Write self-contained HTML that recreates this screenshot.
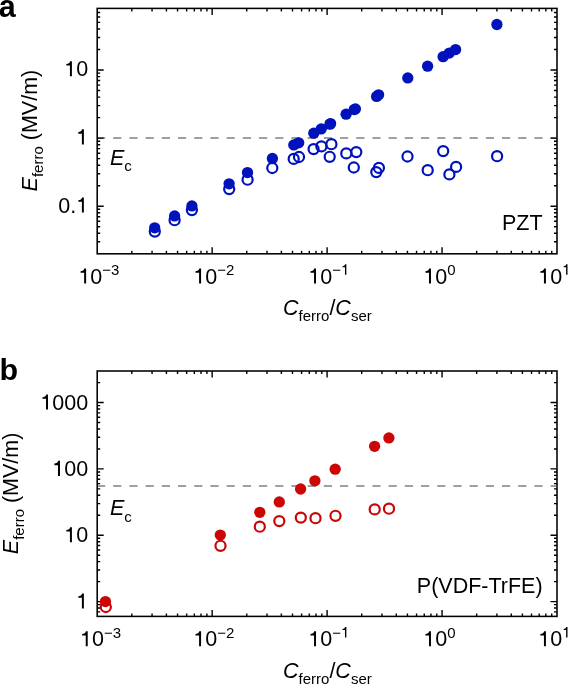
<!DOCTYPE html>
<html><head><meta charset="utf-8"><style>
html,body{margin:0;padding:0;background:#fff;}
svg{display:block;will-change:transform;filter:blur(0.3px);}
text{font-family:"Liberation Sans", sans-serif;fill:#000;}
</style></head><body>
<svg width="568" height="685" viewBox="0 0 568 685">
<rect width="568" height="685" fill="#fff"/>
<line x1="97.0" y1="138.1" x2="556.0" y2="138.1" stroke="#808080" stroke-width="1.5" stroke-dasharray="8.2 8.0"/>
<rect x="97.2" y="8.4" width="459.8" height="245.4" fill="none" stroke="#000" stroke-width="1.55"/>
<path d="M131.80 253.80v-3.0M131.80 8.40v3.0M152.05 253.80v-3.0M152.05 8.40v3.0M166.41 253.80v-3.0M166.41 8.40v3.0M177.55 253.80v-3.0M177.55 8.40v3.0M186.65 253.80v-3.0M186.65 8.40v3.0M194.34 253.80v-3.0M194.34 8.40v3.0M201.01 253.80v-3.0M201.01 8.40v3.0M206.89 253.80v-3.0M206.89 8.40v3.0M212.15 253.80v-6.5M212.15 8.40v6.5M246.75 253.80v-3.0M246.75 8.40v3.0M267.00 253.80v-3.0M267.00 8.40v3.0M281.36 253.80v-3.0M281.36 8.40v3.0M292.50 253.80v-3.0M292.50 8.40v3.0M301.60 253.80v-3.0M301.60 8.40v3.0M309.29 253.80v-3.0M309.29 8.40v3.0M315.96 253.80v-3.0M315.96 8.40v3.0M321.84 253.80v-3.0M321.84 8.40v3.0M327.10 253.80v-6.5M327.10 8.40v6.5M361.70 253.80v-3.0M361.70 8.40v3.0M381.95 253.80v-3.0M381.95 8.40v3.0M396.31 253.80v-3.0M396.31 8.40v3.0M407.45 253.80v-3.0M407.45 8.40v3.0M416.55 253.80v-3.0M416.55 8.40v3.0M424.24 253.80v-3.0M424.24 8.40v3.0M430.91 253.80v-3.0M430.91 8.40v3.0M436.79 253.80v-3.0M436.79 8.40v3.0M442.05 253.80v-6.5M442.05 8.40v6.5M476.65 253.80v-3.0M476.65 8.40v3.0M496.90 253.80v-3.0M496.90 8.40v3.0M511.26 253.80v-3.0M511.26 8.40v3.0M522.40 253.80v-3.0M522.40 8.40v3.0M531.50 253.80v-3.0M531.50 8.40v3.0M539.19 253.80v-3.0M539.19 8.40v3.0M545.86 253.80v-3.0M545.86 8.40v3.0M551.74 253.80v-3.0M551.74 8.40v3.0M97.20 241.81h3.0M557.00 241.81h-3.0M97.20 233.30h3.0M557.00 233.30h-3.0M97.20 226.70h3.0M557.00 226.70h-3.0M97.20 221.31h3.0M557.00 221.31h-3.0M97.20 216.75h3.0M557.00 216.75h-3.0M97.20 212.80h3.0M557.00 212.80h-3.0M97.20 209.32h3.0M557.00 209.32h-3.0M97.20 206.20h6.5M557.00 206.20h-6.5M97.20 185.70h3.0M557.00 185.70h-3.0M97.20 173.71h3.0M557.00 173.71h-3.0M97.20 165.20h3.0M557.00 165.20h-3.0M97.20 158.60h3.0M557.00 158.60h-3.0M97.20 153.21h3.0M557.00 153.21h-3.0M97.20 148.65h3.0M557.00 148.65h-3.0M97.20 144.70h3.0M557.00 144.70h-3.0M97.20 141.22h3.0M557.00 141.22h-3.0M97.20 138.10h6.5M557.00 138.10h-6.5M97.20 117.60h3.0M557.00 117.60h-3.0M97.20 105.61h3.0M557.00 105.61h-3.0M97.20 97.10h3.0M557.00 97.10h-3.0M97.20 90.50h3.0M557.00 90.50h-3.0M97.20 85.11h3.0M557.00 85.11h-3.0M97.20 80.55h3.0M557.00 80.55h-3.0M97.20 76.60h3.0M557.00 76.60h-3.0M97.20 73.12h3.0M557.00 73.12h-3.0M97.20 70.00h6.5M557.00 70.00h-6.5M97.20 49.50h3.0M557.00 49.50h-3.0M97.20 37.51h3.0M557.00 37.51h-3.0M97.20 29.00h3.0M557.00 29.00h-3.0M97.20 22.40h3.0M557.00 22.40h-3.0M97.20 17.01h3.0M557.00 17.01h-3.0M97.20 12.45h3.0M557.00 12.45h-3.0" stroke="#000" stroke-width="1.4" fill="none"/>
<circle cx="154.8" cy="231.6" r="5.05" fill="none" stroke="rgb(0,18,188)" stroke-width="2.2"/>
<circle cx="174.6" cy="220.2" r="5.05" fill="none" stroke="rgb(0,18,188)" stroke-width="2.2"/>
<circle cx="191.9" cy="210.1" r="5.05" fill="none" stroke="rgb(0,18,188)" stroke-width="2.2"/>
<circle cx="229.2" cy="189.1" r="5.05" fill="none" stroke="rgb(0,18,188)" stroke-width="2.2"/>
<circle cx="247.6" cy="179.7" r="5.05" fill="none" stroke="rgb(0,18,188)" stroke-width="2.2"/>
<circle cx="272.3" cy="168.0" r="5.05" fill="none" stroke="rgb(0,18,188)" stroke-width="2.2"/>
<circle cx="293.7" cy="158.9" r="5.05" fill="none" stroke="rgb(0,18,188)" stroke-width="2.2"/>
<circle cx="299.0" cy="157.0" r="5.05" fill="none" stroke="rgb(0,18,188)" stroke-width="2.2"/>
<circle cx="313.6" cy="149.1" r="5.05" fill="none" stroke="rgb(0,18,188)" stroke-width="2.2"/>
<circle cx="321.4" cy="146.4" r="5.05" fill="none" stroke="rgb(0,18,188)" stroke-width="2.2"/>
<circle cx="331.4" cy="144.2" r="5.05" fill="none" stroke="rgb(0,18,188)" stroke-width="2.2"/>
<circle cx="329.7" cy="156.8" r="5.05" fill="none" stroke="rgb(0,18,188)" stroke-width="2.2"/>
<circle cx="346.3" cy="153.4" r="5.05" fill="none" stroke="rgb(0,18,188)" stroke-width="2.2"/>
<circle cx="356.3" cy="152.1" r="5.05" fill="none" stroke="rgb(0,18,188)" stroke-width="2.2"/>
<circle cx="353.8" cy="167.5" r="5.05" fill="none" stroke="rgb(0,18,188)" stroke-width="2.2"/>
<circle cx="378.9" cy="167.9" r="5.05" fill="none" stroke="rgb(0,18,188)" stroke-width="2.2"/>
<circle cx="376.3" cy="172.1" r="5.05" fill="none" stroke="rgb(0,18,188)" stroke-width="2.2"/>
<circle cx="407.5" cy="156.5" r="5.05" fill="none" stroke="rgb(0,18,188)" stroke-width="2.2"/>
<circle cx="427.7" cy="170.2" r="5.05" fill="none" stroke="rgb(0,18,188)" stroke-width="2.2"/>
<circle cx="443.2" cy="151.1" r="5.05" fill="none" stroke="rgb(0,18,188)" stroke-width="2.2"/>
<circle cx="456.1" cy="166.9" r="5.05" fill="none" stroke="rgb(0,18,188)" stroke-width="2.2"/>
<circle cx="449.4" cy="174.4" r="5.05" fill="none" stroke="rgb(0,18,188)" stroke-width="2.2"/>
<circle cx="497.1" cy="156.2" r="5.05" fill="none" stroke="rgb(0,18,188)" stroke-width="2.2"/>
<circle cx="154.7" cy="227.8" r="5.65" fill="rgb(0,18,188)"/>
<circle cx="174.6" cy="215.9" r="5.65" fill="rgb(0,18,188)"/>
<circle cx="191.9" cy="205.9" r="5.65" fill="rgb(0,18,188)"/>
<circle cx="229.1" cy="183.8" r="5.65" fill="rgb(0,18,188)"/>
<circle cx="247.5" cy="172.6" r="5.65" fill="rgb(0,18,188)"/>
<circle cx="272.4" cy="158.5" r="5.65" fill="rgb(0,18,188)"/>
<circle cx="293.8" cy="144.9" r="5.65" fill="rgb(0,18,188)"/>
<circle cx="298.7" cy="142.8" r="5.65" fill="rgb(0,18,188)"/>
<circle cx="313.8" cy="133.2" r="5.65" fill="rgb(0,18,188)"/>
<circle cx="321.2" cy="128.9" r="5.65" fill="rgb(0,18,188)"/>
<circle cx="329.9" cy="124.2" r="5.65" fill="rgb(0,18,188)"/>
<circle cx="330.6" cy="123.6" r="5.65" fill="rgb(0,18,188)"/>
<circle cx="346.1" cy="114.2" r="5.65" fill="rgb(0,18,188)"/>
<circle cx="354.2" cy="109.6" r="5.65" fill="rgb(0,18,188)"/>
<circle cx="355.4" cy="108.9" r="5.65" fill="rgb(0,18,188)"/>
<circle cx="376.6" cy="96.4" r="5.65" fill="rgb(0,18,188)"/>
<circle cx="378.6" cy="94.8" r="5.65" fill="rgb(0,18,188)"/>
<circle cx="407.8" cy="77.9" r="5.65" fill="rgb(0,18,188)"/>
<circle cx="427.6" cy="66.2" r="5.65" fill="rgb(0,18,188)"/>
<circle cx="443.1" cy="56.7" r="5.65" fill="rgb(0,18,188)"/>
<circle cx="449.3" cy="53.1" r="5.65" fill="rgb(0,18,188)"/>
<circle cx="455.6" cy="49.6" r="5.65" fill="rgb(0,18,188)"/>
<circle cx="496.9" cy="24.5" r="5.65" fill="rgb(0,18,188)"/>
<text x="64.19" y="76.30" font-size="21.5"> 0</text>
<path d="M359 0L267 0L267 500L101 500L101 572C200 575 255 620 275 703L359 703Z" transform="translate(64.19,76.30) scale(0.02150,-0.02150)" fill="#000"/>
<text x="76.15" y="144.40" font-size="21.5"> </text>
<path d="M359 0L267 0L267 500L101 500L101 572C200 575 255 620 275 703L359 703Z" transform="translate(76.15,144.40) scale(0.02150,-0.02150)" fill="#000"/>
<text x="58.21" y="212.50" font-size="21.5">0. </text>
<path d="M359 0L267 0L267 500L101 500L101 572C200 575 255 620 275 703L359 703Z" transform="translate(76.15,212.50) scale(0.02150,-0.02150)" fill="#000"/>
<text x="78.40" y="283.6" font-size="21.5"> 0</text>
<path d="M359 0L267 0L267 500L101 500L101 572C200 575 255 620 275 703L359 703Z" transform="translate(78.40,283.60) scale(0.02150,-0.02150)" fill="#000"/>
<text x="102.31" y="274.80" font-size="15.0">−</text>
<text x="111.07" y="274.8" font-size="15.0">3</text>
<text x="193.35" y="283.6" font-size="21.5"> 0</text>
<path d="M359 0L267 0L267 500L101 500L101 572C200 575 255 620 275 703L359 703Z" transform="translate(193.35,283.60) scale(0.02150,-0.02150)" fill="#000"/>
<text x="217.26" y="274.80" font-size="15.0">−</text>
<text x="226.02" y="274.8" font-size="15.0">2</text>
<text x="308.30" y="283.6" font-size="21.5"> 0</text>
<path d="M359 0L267 0L267 500L101 500L101 572C200 575 255 620 275 703L359 703Z" transform="translate(308.30,283.60) scale(0.02150,-0.02150)" fill="#000"/>
<text x="332.21" y="274.80" font-size="15.0">−</text>
<text x="340.97" y="274.8" font-size="15.0"> </text>
<path d="M359 0L267 0L267 500L101 500L101 572C200 575 255 620 275 703L359 703Z" transform="translate(340.97,274.80) scale(0.01500,-0.01500)" fill="#000"/>
<text x="423.25" y="283.6" font-size="21.5"> 0</text>
<path d="M359 0L267 0L267 500L101 500L101 572C200 575 255 620 275 703L359 703Z" transform="translate(423.25,283.60) scale(0.02150,-0.02150)" fill="#000"/>
<text x="447.16" y="274.8" font-size="15.0">0</text>
<text x="538.20" y="283.6" font-size="21.5"> 0</text>
<path d="M359 0L267 0L267 500L101 500L101 572C200 575 255 620 275 703L359 703Z" transform="translate(538.20,283.60) scale(0.02150,-0.02150)" fill="#000"/>
<text x="562.11" y="274.8" font-size="15.0"> </text>
<path d="M359 0L267 0L267 500L101 500L101 572C200 575 255 620 275 703L359 703Z" transform="translate(562.11,274.80) scale(0.01500,-0.01500)" fill="#000"/>
<text x="283.0" y="314.5" font-size="21.5"><tspan font-style="italic">C</tspan><tspan font-size="15.0" dy="6.3">ferro</tspan><tspan dy="-6.3">/</tspan><tspan font-style="italic">C</tspan><tspan font-size="15.0" dy="6.3">ser</tspan></text>
<text transform="translate(36.8,130.6) rotate(-90)" x="0" y="0" font-size="21.5" text-anchor="middle"><tspan font-style="italic">E</tspan><tspan font-size="15.0" dy="6.0">ferro</tspan><tspan dy="-6.0"> (MV/m)</tspan></text>
<text x="110.0" y="164.6" font-size="21.5"><tspan font-style="italic">E</tspan><tspan font-size="15.0" dy="6.3">c</tspan></text>
<text x="542.6" y="229.7" font-size="21.5" text-anchor="end" >PZT</text>
<text x="-1.15" y="16.6" font-size="30.5" font-weight="bold">a</text>
<line x1="97.0" y1="485.91812711026876" x2="556.0" y2="485.91812711026876" stroke="#808080" stroke-width="1.5" stroke-dasharray="8.2 8.0"/>
<rect x="97.2" y="371.0" width="459.8" height="245.39999999999998" fill="none" stroke="#000" stroke-width="1.55"/>
<path d="M131.80 616.40v-3.0M131.80 371.00v3.0M152.05 616.40v-3.0M152.05 371.00v3.0M166.41 616.40v-3.0M166.41 371.00v3.0M177.55 616.40v-3.0M177.55 371.00v3.0M186.65 616.40v-3.0M186.65 371.00v3.0M194.34 616.40v-3.0M194.34 371.00v3.0M201.01 616.40v-3.0M201.01 371.00v3.0M206.89 616.40v-3.0M206.89 371.00v3.0M212.15 616.40v-6.5M212.15 371.00v6.5M246.75 616.40v-3.0M246.75 371.00v3.0M267.00 616.40v-3.0M267.00 371.00v3.0M281.36 616.40v-3.0M281.36 371.00v3.0M292.50 616.40v-3.0M292.50 371.00v3.0M301.60 616.40v-3.0M301.60 371.00v3.0M309.29 616.40v-3.0M309.29 371.00v3.0M315.96 616.40v-3.0M315.96 371.00v3.0M321.84 616.40v-3.0M321.84 371.00v3.0M327.10 616.40v-6.5M327.10 371.00v6.5M361.70 616.40v-3.0M361.70 371.00v3.0M381.95 616.40v-3.0M381.95 371.00v3.0M396.31 616.40v-3.0M396.31 371.00v3.0M407.45 616.40v-3.0M407.45 371.00v3.0M416.55 616.40v-3.0M416.55 371.00v3.0M424.24 616.40v-3.0M424.24 371.00v3.0M430.91 616.40v-3.0M430.91 371.00v3.0M436.79 616.40v-3.0M436.79 371.00v3.0M442.05 616.40v-6.5M442.05 371.00v6.5M476.65 616.40v-3.0M476.65 371.00v3.0M496.90 616.40v-3.0M496.90 371.00v3.0M511.26 616.40v-3.0M511.26 371.00v3.0M522.40 616.40v-3.0M522.40 371.00v3.0M531.50 616.40v-3.0M531.50 371.00v3.0M539.19 616.40v-3.0M539.19 371.00v3.0M545.86 616.40v-3.0M545.86 371.00v3.0M551.74 616.40v-3.0M551.74 371.00v3.0M97.20 611.88h3.0M557.00 611.88h-3.0M97.20 608.03h3.0M557.00 608.03h-3.0M97.20 604.64h3.0M557.00 604.64h-3.0M97.20 601.60h6.5M557.00 601.60h-6.5M97.20 581.63h3.0M557.00 581.63h-3.0M97.20 569.94h3.0M557.00 569.94h-3.0M97.20 561.65h3.0M557.00 561.65h-3.0M97.20 555.22h3.0M557.00 555.22h-3.0M97.20 549.97h3.0M557.00 549.97h-3.0M97.20 545.53h3.0M557.00 545.53h-3.0M97.20 541.68h3.0M557.00 541.68h-3.0M97.20 538.29h3.0M557.00 538.29h-3.0M97.20 535.25h6.5M557.00 535.25h-6.5M97.20 515.28h3.0M557.00 515.28h-3.0M97.20 503.59h3.0M557.00 503.59h-3.0M97.20 495.30h3.0M557.00 495.30h-3.0M97.20 488.87h3.0M557.00 488.87h-3.0M97.20 483.62h3.0M557.00 483.62h-3.0M97.20 479.18h3.0M557.00 479.18h-3.0M97.20 475.33h3.0M557.00 475.33h-3.0M97.20 471.94h3.0M557.00 471.94h-3.0M97.20 468.90h6.5M557.00 468.90h-6.5M97.20 448.93h3.0M557.00 448.93h-3.0M97.20 437.24h3.0M557.00 437.24h-3.0M97.20 428.95h3.0M557.00 428.95h-3.0M97.20 422.52h3.0M557.00 422.52h-3.0M97.20 417.27h3.0M557.00 417.27h-3.0M97.20 412.83h3.0M557.00 412.83h-3.0M97.20 408.98h3.0M557.00 408.98h-3.0M97.20 405.59h3.0M557.00 405.59h-3.0M97.20 402.55h6.5M557.00 402.55h-6.5M97.20 382.58h3.0M557.00 382.58h-3.0" stroke="#000" stroke-width="1.4" fill="none"/>
<circle cx="105.8" cy="607.0" r="5.05" fill="none" stroke="rgb(204,5,5)" stroke-width="2.2"/>
<circle cx="220.5" cy="545.8" r="5.05" fill="none" stroke="rgb(204,5,5)" stroke-width="2.2"/>
<circle cx="259.8" cy="526.7" r="5.05" fill="none" stroke="rgb(204,5,5)" stroke-width="2.2"/>
<circle cx="279.3" cy="521.1" r="5.05" fill="none" stroke="rgb(204,5,5)" stroke-width="2.2"/>
<circle cx="300.8" cy="517.6" r="5.05" fill="none" stroke="rgb(204,5,5)" stroke-width="2.2"/>
<circle cx="315.5" cy="518.2" r="5.05" fill="none" stroke="rgb(204,5,5)" stroke-width="2.2"/>
<circle cx="335.5" cy="515.8" r="5.05" fill="none" stroke="rgb(204,5,5)" stroke-width="2.2"/>
<circle cx="374.7" cy="509.4" r="5.05" fill="none" stroke="rgb(204,5,5)" stroke-width="2.2"/>
<circle cx="389.0" cy="508.7" r="5.05" fill="none" stroke="rgb(204,5,5)" stroke-width="2.2"/>
<circle cx="105.45" cy="601.6" r="5.65" fill="rgb(204,5,5)"/>
<circle cx="220.3" cy="535.1" r="5.65" fill="rgb(204,5,5)"/>
<circle cx="259.8" cy="512.3" r="5.65" fill="rgb(204,5,5)"/>
<circle cx="279.3" cy="501.9" r="5.65" fill="rgb(204,5,5)"/>
<circle cx="300.6" cy="489.0" r="5.65" fill="rgb(204,5,5)"/>
<circle cx="314.9" cy="480.8" r="5.65" fill="rgb(204,5,5)"/>
<circle cx="335.2" cy="469.2" r="5.65" fill="rgb(204,5,5)"/>
<circle cx="374.6" cy="446.3" r="5.65" fill="rgb(204,5,5)"/>
<circle cx="388.9" cy="437.9" r="5.65" fill="rgb(204,5,5)"/>
<text x="40.28" y="409.55" font-size="21.5"> 000</text>
<path d="M359 0L267 0L267 500L101 500L101 572C200 575 255 620 275 703L359 703Z" transform="translate(40.28,409.55) scale(0.02150,-0.02150)" fill="#000"/>
<text x="52.24" y="475.90" font-size="21.5"> 00</text>
<path d="M359 0L267 0L267 500L101 500L101 572C200 575 255 620 275 703L359 703Z" transform="translate(52.24,475.90) scale(0.02150,-0.02150)" fill="#000"/>
<text x="64.19" y="542.25" font-size="21.5"> 0</text>
<path d="M359 0L267 0L267 500L101 500L101 572C200 575 255 620 275 703L359 703Z" transform="translate(64.19,542.25) scale(0.02150,-0.02150)" fill="#000"/>
<text x="76.15" y="608.60" font-size="21.5"> </text>
<path d="M359 0L267 0L267 500L101 500L101 572C200 575 255 620 275 703L359 703Z" transform="translate(76.15,608.60) scale(0.02150,-0.02150)" fill="#000"/>
<text x="80.00" y="646.3" font-size="21.5"> 0</text>
<path d="M359 0L267 0L267 500L101 500L101 572C200 575 255 620 275 703L359 703Z" transform="translate(80.00,646.30) scale(0.02150,-0.02150)" fill="#000"/>
<text x="103.91" y="637.50" font-size="15.0">−</text>
<text x="112.67" y="637.5" font-size="15.0">3</text>
<text x="193.35" y="646.3" font-size="21.5"> 0</text>
<path d="M359 0L267 0L267 500L101 500L101 572C200 575 255 620 275 703L359 703Z" transform="translate(193.35,646.30) scale(0.02150,-0.02150)" fill="#000"/>
<text x="217.26" y="637.50" font-size="15.0">−</text>
<text x="226.02" y="637.5" font-size="15.0">2</text>
<text x="308.30" y="646.3" font-size="21.5"> 0</text>
<path d="M359 0L267 0L267 500L101 500L101 572C200 575 255 620 275 703L359 703Z" transform="translate(308.30,646.30) scale(0.02150,-0.02150)" fill="#000"/>
<text x="332.21" y="637.50" font-size="15.0">−</text>
<text x="340.97" y="637.5" font-size="15.0"> </text>
<path d="M359 0L267 0L267 500L101 500L101 572C200 575 255 620 275 703L359 703Z" transform="translate(340.97,637.50) scale(0.01500,-0.01500)" fill="#000"/>
<text x="423.25" y="646.3" font-size="21.5"> 0</text>
<path d="M359 0L267 0L267 500L101 500L101 572C200 575 255 620 275 703L359 703Z" transform="translate(423.25,646.30) scale(0.02150,-0.02150)" fill="#000"/>
<text x="447.16" y="637.5" font-size="15.0">0</text>
<text x="538.20" y="646.3" font-size="21.5"> 0</text>
<path d="M359 0L267 0L267 500L101 500L101 572C200 575 255 620 275 703L359 703Z" transform="translate(538.20,646.30) scale(0.02150,-0.02150)" fill="#000"/>
<text x="562.11" y="637.5" font-size="15.0"> </text>
<path d="M359 0L267 0L267 500L101 500L101 572C200 575 255 620 275 703L359 703Z" transform="translate(562.11,637.50) scale(0.01500,-0.01500)" fill="#000"/>
<text x="283.0" y="677.9" font-size="21.5"><tspan font-style="italic">C</tspan><tspan font-size="15.0" dy="6.3">ferro</tspan><tspan dy="-6.3">/</tspan><tspan font-style="italic">C</tspan><tspan font-size="15.0" dy="6.3">ser</tspan></text>
<text transform="translate(18.0,493.4) rotate(-90)" x="0" y="0" font-size="21.5" text-anchor="middle"><tspan font-style="italic">E</tspan><tspan font-size="15.0" dy="6.0">ferro</tspan><tspan dy="-6.0"> (MV/m)</tspan></text>
<text x="110.0" y="515.2" font-size="21.5"><tspan font-style="italic">E</tspan><tspan font-size="15.0" dy="6.3">c</tspan></text>
<text x="542.6" y="592.5" font-size="21.5" text-anchor="end" >P(VDF-TrFE)</text>
<text transform="translate(-0.55,379.7) scale(1.03,1)" x="0" y="0" font-size="29.5" font-weight="bold">b</text>
</svg>
</body></html>
